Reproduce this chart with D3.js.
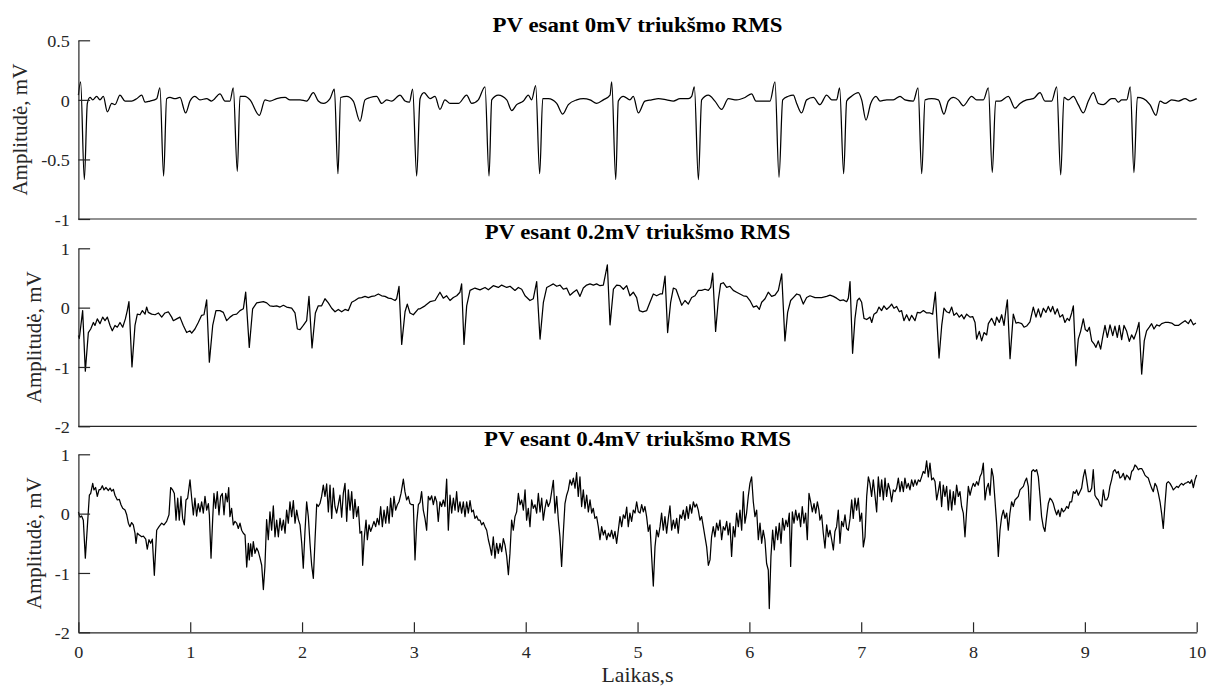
<!DOCTYPE html>
<html><head><meta charset="utf-8">
<script src="https://cdn.jsdelivr.net/npm/d3@7"></script>
<style>html,body{margin:0;padding:0;background:#fff;}svg{display:block;font-family:"Liberation Serif","Tinos","Times New Roman","Nimbus Roman","Nimbus Roman No9 L","DejaVu Serif","Noto Serif",serif;}</style>
</head><body><svg id="chart" width="1209" height="686"></svg>
<script>
// ---------------- data ----------------
const titles = ["PV esant 0mV triukšmo RMS", "PV esant 0.2mV triukšmo RMS", "PV esant 0.4mV triukšmo RMS"];
const yLabel = "Amplitudė, mV";
const xLabel = "Laikas,s";
const xTicks = [0, 1, 2, 3, 4, 5, 6, 7, 8, 9, 10];
const yTicksClean = [-1, -0.5, 0, 0.5];
const yTicksNoisy = [-2, -1, 0, 1];

// [time s, amplitude mV] — clean signal
const ecg0 = [
[0.000,0.04],[0.020,0.15],[0.053,-0.67],[0.080,-0.03],[0.104,0.02],[0.128,0.00],[0.163,0.03],[0.193,0.00],[0.223,0.03],[0.259,-0.10],[0.298,-0.03],[0.327,-0.04],[0.372,0.04],[0.417,-0.01],[0.476,-0.01],[0.521,0.01],[0.566,0.04],[0.596,-0.02],[0.640,-0.01],[0.700,0.01],[0.729,0.10],[0.762,-0.64],[0.789,0.01],[0.819,0.02],[0.864,0.01],[0.908,0.02],[0.959,-0.11],[0.998,-0.01],[1.042,0.03],[1.087,0.00],[1.146,0.01],[1.191,-0.01],[1.266,0.05],[1.311,-0.01],[1.355,-0.01],[1.385,0.10],[1.421,-0.60],[1.445,0.03],[1.490,0.03],[1.535,0.00],[1.618,-0.13],[1.669,0.00],[1.713,-0.01],[1.773,0.01],[1.848,0.02],[1.892,0.00],[1.982,0.00],[2.041,-0.01],[2.101,0.06],[2.145,-0.01],[2.190,-0.03],[2.250,0.01],[2.289,0.09],[2.321,-0.62],[2.345,0.02],[2.399,0.03],[2.458,-0.01],[2.518,-0.18],[2.563,0.00],[2.608,0.02],[2.667,0.03],[2.712,-0.03],[2.757,0.00],[2.801,-0.01],[2.876,0.04],[2.921,-0.01],[2.960,-0.02],[2.989,0.09],[3.025,-0.64],
[3.055,0.01],[3.091,0.06],[3.144,0.01],[3.189,0.03],[3.233,-0.08],[3.278,0.00],[3.323,-0.03],[3.398,-0.03],[3.472,0.04],[3.517,-0.03],[3.576,0.00],[3.636,0.11],[3.672,-0.64],[3.696,0.00],[3.755,0.04],[3.830,0.00],[3.875,-0.09],[3.919,-0.04],[3.979,-0.01],[4.023,0.04],[4.053,0.00],[4.089,0.12],[4.125,-0.62],[4.152,0.01],[4.202,0.01],[4.277,-0.03],[4.331,-0.12],[4.381,-0.04],[4.456,0.00],[4.515,0.01],[4.575,0.00],[4.634,-0.03],[4.694,0.00],[4.754,0.04],[4.769,0.15],[4.805,-0.67],[4.828,-0.01],[4.873,0.03],[4.932,0.00],[4.962,0.03],[5.007,-0.11],[5.066,-0.01],[5.126,0.00],[5.186,0.01],[5.260,0.00],[5.320,-0.01],[5.380,0.01],[5.454,0.01],[5.484,0.03],[5.508,0.11],[5.544,-0.67],[5.573,0.00],[5.633,0.04],[5.692,-0.01],[5.752,-0.08],[5.812,0.01],[5.886,0.00],[5.961,0.02],[6.020,0.05],[6.059,-0.01],[6.125,-0.01],[6.184,-0.01],[6.229,0.15],[6.265,-0.65],[6.298,0.00],[6.348,0.03],[6.393,0.04],[6.423,-0.03],[6.467,-0.11],[6.512,0.00],[6.572,0.02],
[6.631,-0.04],[6.691,0.04],[6.736,0.00],[6.780,0.00],[6.807,0.10],[6.843,-0.62],[6.870,-0.01],[6.914,0.03],[6.974,0.06],[7.004,0.00],[7.043,-0.17],[7.085,-0.03],[7.132,0.03],[7.168,-0.01],[7.228,0.00],[7.287,0.00],[7.347,0.03],[7.391,0.00],[7.466,-0.01],[7.508,0.10],[7.541,-0.62],[7.571,0.00],[7.630,0.01],[7.690,0.00],[7.740,-0.12],[7.779,-0.01],[7.824,0.02],[7.868,0.00],[7.913,-0.05],[7.988,0.03],[8.032,0.00],[8.092,0.00],[8.137,0.10],[8.172,-0.61],[8.202,-0.01],[8.241,-0.01],[8.315,0.03],[8.375,-0.07],[8.420,-0.03],[8.479,0.00],[8.539,0.01],[8.599,0.06],[8.643,-0.01],[8.703,-0.01],[8.748,0.11],[8.784,-0.63],[8.813,0.02],[8.852,0.00],[8.897,0.03],[8.941,-0.04],[8.986,-0.11],[9.031,-0.01],[9.076,0.06],[9.120,-0.03],[9.165,-0.04],[9.239,0.01],[9.269,0.01],[9.299,-0.02],[9.329,0.00],[9.374,0.00],[9.406,0.11],[9.439,-0.61],[9.469,0.02],[9.523,0.01],[9.582,-0.04],[9.636,-0.13],[9.672,-0.01],[9.717,-0.03],[9.776,0.00],[9.836,-0.01],[9.896,0.01],[9.940,-0.01],[10.0,0.01]
];

// signal with 0.2 mV RMS noise
const ecg02 = [
[0.000,-0.47],[0.008,-0.52],[0.038,-0.05],[0.062,-1.07],[0.089,-0.42],[0.110,-0.36],[0.134,-0.25],[0.148,-0.30],[0.169,-0.19],[0.193,-0.27],[0.217,-0.16],[0.238,-0.22],[0.259,-0.16],[0.283,-0.30],[0.303,-0.39],[0.327,-0.30],[0.348,-0.33],[0.372,-0.25],[0.396,-0.33],[0.420,-0.19],[0.437,-0.05],[0.452,0.10],[0.479,-1.00],[0.506,-0.30],[0.527,-0.11],[0.551,-0.12],[0.572,-0.05],[0.596,-0.11],[0.610,0.01],[0.625,-0.08],[0.655,-0.11],[0.685,-0.12],[0.715,-0.09],[0.745,-0.16],[0.774,-0.09],[0.804,-0.07],[0.834,-0.16],[0.849,-0.22],[0.879,-0.19],[0.908,-0.16],[0.938,-0.30],[0.968,-0.42],[0.998,-0.39],[1.013,-0.43],[1.042,-0.36],[1.072,-0.25],[1.102,-0.13],[1.123,-0.12],[1.147,0.13],[1.171,-0.92],[1.201,-0.30],[1.230,-0.05],[1.266,-0.05],[1.296,-0.08],[1.326,-0.22],[1.356,-0.16],[1.385,-0.12],[1.415,-0.11],[1.445,-0.05],[1.475,-0.02],[1.496,0.26],[1.528,-0.67],[1.558,-0.02],[1.594,0.08],[1.654,0.10],[1.684,0.08],[1.713,0.03],[1.743,0.02],[1.773,0.03],[1.803,0.01],[1.833,0.04],[1.862,0.01],[1.907,-0.01],[1.937,-0.09],[1.958,-0.36],[1.982,-0.37],[2.011,-0.30],[2.041,-0.22],[2.062,0.19],[2.089,-0.68],[2.119,-0.09],[2.145,0.03],[2.175,0.03],[2.205,0.15],[2.235,0.08],[2.265,-0.01],[2.295,-0.07],[2.324,-0.03],[2.354,-0.07],[2.384,-0.03],[2.414,-0.05],[2.444,0.09],[2.473,0.12],[2.503,0.16],[2.533,0.17],[2.563,0.19],[2.593,0.17],[2.622,0.19],[2.652,0.20],[2.682,0.23],[2.712,0.20],[2.742,0.19],[2.772,0.16],[2.801,0.15],[2.831,0.12],[2.846,0.15],[2.867,0.36],[2.891,-0.62],[2.921,-0.07],[2.941,0.06],[2.965,-0.09],[2.995,-0.12],[3.040,-0.02],
[3.055,-0.02],[3.099,0.03],[3.144,0.10],[3.189,0.12],[3.233,0.26],[3.263,0.16],[3.293,0.20],[3.323,0.12],[3.353,0.17],[3.383,0.20],[3.412,0.26],[3.427,0.40],[3.448,-0.62],[3.472,0.03],[3.502,0.29],[3.546,0.33],[3.591,0.30],[3.636,0.34],[3.666,0.30],[3.710,0.37],[3.755,0.34],[3.785,0.38],[3.830,0.34],[3.860,0.36],[3.904,0.29],[3.934,0.34],[3.964,0.31],[3.994,0.20],[4.038,0.12],[4.068,0.15],[4.098,0.44],[4.128,-0.53],[4.158,0.09],[4.188,0.34],[4.217,0.37],[4.247,0.40],[4.277,0.36],[4.307,0.38],[4.336,0.31],[4.366,0.33],[4.396,0.21],[4.426,0.26],[4.456,0.30],[4.485,0.19],[4.515,0.33],[4.545,0.38],[4.575,0.40],[4.605,0.38],[4.634,0.40],[4.664,0.37],[4.694,0.38],[4.730,0.72],[4.754,-0.29],[4.784,0.31],[4.813,0.38],[4.843,0.37],[4.873,0.31],[4.903,0.37],[4.932,0.20],[4.962,0.26],[4.992,0.17],[5.016,-0.05],[5.046,-0.07],[5.082,-0.05],[5.111,0.09],[5.141,0.23],[5.171,0.20],[5.201,0.23],[5.222,0.23],[5.246,0.53],[5.269,-0.42],[5.296,0.09],[5.320,0.33],[5.344,0.31],[5.365,0.20],[5.395,0.04],[5.424,0.12],[5.454,0.06],[5.484,0.17],[5.514,0.20],[5.544,0.29],[5.573,0.29],[5.603,0.31],[5.633,0.29],[5.654,0.34],[5.672,0.58],[5.698,-0.40],[5.722,0.12],[5.743,0.40],[5.767,0.42],[5.797,0.34],[5.826,0.36],[5.856,0.29],[5.886,0.26],[5.916,0.23],[5.946,0.20],[5.976,0.19],[6.005,0.12],[6.035,0.01],[6.065,0.03],[6.089,-0.03],[6.110,0.09],[6.140,0.15],[6.169,0.26],[6.199,0.19],[6.229,0.21],[6.259,0.29],[6.289,0.57],[6.318,-0.56],[6.342,-0.08],[6.369,0.12],[6.393,0.17],[6.423,0.23],[6.452,0.21],[6.482,0.06],[6.512,0.17],[6.542,0.20],[6.587,0.17],
[6.646,0.17],[6.691,0.19],[6.721,0.21],[6.751,0.19],[6.780,0.16],[6.810,0.12],[6.840,0.13],[6.870,0.10],[6.885,0.16],[6.900,0.44],[6.923,-0.77],[6.944,-0.19],[6.965,0.12],[6.983,0.16],[7.004,0.09],[7.025,-0.18],[7.049,-0.20],[7.079,-0.16],[7.094,-0.25],[7.114,-0.11],[7.138,-0.08],[7.159,0.01],[7.182,-0.05],[7.203,0.03],[7.227,-0.03],[7.251,0.01],[7.272,0.06],[7.293,-0.01],[7.317,0.02],[7.341,-0.07],[7.361,-0.05],[7.382,-0.22],[7.406,-0.12],[7.430,-0.22],[7.451,-0.13],[7.481,-0.22],[7.502,-0.08],[7.526,-0.09],[7.556,-0.05],[7.585,-0.09],[7.615,-0.09],[7.639,-0.11],[7.663,0.26],[7.696,-0.85],[7.720,-0.30],[7.740,-0.01],[7.764,-0.07],[7.788,-0.09],[7.809,0.01],[7.829,-0.13],[7.853,-0.09],[7.877,-0.16],[7.898,-0.12],[7.919,-0.19],[7.943,-0.11],[7.973,-0.16],[7.997,-0.15],[8.018,-0.25],[8.032,-0.53],[8.056,-0.40],[8.077,-0.56],[8.098,-0.42],[8.122,-0.46],[8.137,-0.27],[8.166,-0.18],[8.196,-0.30],[8.211,-0.16],[8.235,-0.25],[8.256,-0.12],[8.277,-0.30],[8.295,-0.02],[8.307,0.13],[8.331,-0.86],[8.360,-0.11],[8.384,-0.26],[8.405,-0.25],[8.435,-0.27],[8.456,-0.33],[8.479,-0.31],[8.509,-0.24],[8.539,0.01],[8.563,-0.16],[8.584,-0.02],[8.605,-0.16],[8.629,-0.01],[8.652,-0.08],[8.673,0.02],[8.694,-0.07],[8.712,0.02],[8.733,-0.11],[8.754,-0.02],[8.777,-0.16],[8.801,-0.12],[8.822,-0.25],[8.843,-0.18],[8.861,-0.22],[8.882,-0.09],[8.897,0.03],[8.920,-0.98],[8.941,-0.53],[8.962,-0.40],[8.986,-0.19],[9.004,-0.37],[9.022,-0.40],[9.040,-0.33],[9.061,-0.56],[9.082,-0.61],[9.099,-0.67],[9.120,-0.56],[9.141,-0.70],[9.159,-0.50],[9.180,-0.30],[9.201,-0.50],[9.225,-0.29],[9.249,-0.47],[9.269,-0.31],[9.290,-0.50],[9.308,-0.30],[9.329,-0.54],[9.350,-0.30],[9.374,-0.40],[9.397,-0.57],[9.418,-0.46],[9.439,-0.53],[9.463,-0.40],[9.484,-0.25],[9.508,-1.12],[9.531,-0.56],[9.552,-0.39],[9.576,-0.33],[9.597,-0.27],[9.618,-0.36],[9.642,-0.29],[9.666,-0.31],[9.687,-0.27],[9.716,-0.25],[9.746,-0.25],[9.776,-0.26],[9.806,-0.30],[9.836,-0.30],[9.866,-0.26],[9.896,-0.22],[9.925,-0.27],[9.946,-0.20],[9.970,-0.29],[9.993,-0.26]
];

// signal with 0.4 mV RMS noise
const ecg04 = [
[0.000,0.03],[0.014,-0.06],[0.029,-0.04],[0.044,-0.11],[0.062,-0.75],[0.080,-0.22],[0.098,0.31],[0.110,0.34],[0.128,0.51],[0.139,0.40],[0.154,0.44],[0.169,0.29],[0.184,0.40],[0.199,0.41],[0.214,0.47],[0.229,0.40],[0.247,0.44],[0.268,0.39],[0.283,0.43],[0.298,0.38],[0.313,0.41],[0.327,0.31],[0.348,0.23],[0.366,0.24],[0.381,0.15],[0.396,0.09],[0.417,0.06],[0.432,-0.02],[0.447,-0.16],[0.461,-0.22],[0.476,-0.15],[0.491,-0.19],[0.506,-0.33],[0.515,-0.50],[0.527,-0.33],[0.545,-0.36],[0.566,-0.39],[0.581,-0.38],[0.602,-0.43],[0.616,-0.60],[0.631,-0.44],[0.646,-0.50],[0.661,-0.43],[0.679,-1.04],[0.700,-0.28],[0.721,-0.22],[0.745,-0.16],[0.765,-0.19],[0.789,-0.13],[0.810,-0.02],[0.825,0.44],[0.843,0.40],[0.858,0.34],[0.873,-0.11],[0.888,0.26],[0.902,-0.11],[0.917,0.29],[0.932,-0.08],[0.947,-0.19],[0.962,0.23],[0.977,0.26],[0.998,0.57],[1.013,0.26],[1.028,-0.02],[1.042,0.26],[1.057,-0.04],[1.072,0.17],[1.087,0.03],[1.102,0.20],[1.117,0.01],[1.132,0.29],[1.147,0.06],[1.162,0.17],[1.171,-0.02],[1.186,-0.75],[1.201,-0.08],[1.212,0.34],[1.227,0.09],[1.242,0.37],[1.257,-0.02],[1.272,0.29],[1.287,0.34],[1.302,-0.02],[1.317,0.34],[1.332,0.20],[1.344,0.44],[1.355,-0.05],[1.370,0.09],[1.385,-0.19],[1.400,-0.13],[1.415,-0.16],[1.430,-0.25],[1.445,-0.16],[1.460,-0.28],[1.475,-0.33],[1.490,-0.36],[1.505,-0.90],[1.520,-0.50],[1.528,-0.78],[1.540,-0.51],[1.552,-0.72],[1.564,-0.47],[1.579,-0.67],[1.594,-0.58],[1.609,-0.64],[1.624,-0.75],[1.639,-0.87],[1.654,-1.28],[1.668,-0.89],[1.683,-0.10],[1.698,-0.44],[1.713,0.03],[1.728,-0.28],[1.743,0.13],[1.758,-0.39],[1.773,-0.11],[1.788,-0.39],[1.803,-0.08],[1.818,-0.28],[1.833,-0.11],[1.848,-0.33],[1.862,0.06],[1.877,-0.16],[1.892,0.20],[1.907,-0.05],[1.922,0.22],[1.937,-0.16],[1.952,0.06],[1.967,-0.10],[1.982,-0.19],[1.997,-0.50],[2.011,-0.92],[2.026,-0.30],[2.041,0.20],[2.056,-0.05],[2.071,-0.50],[2.086,-0.87],[2.101,-1.09],[2.116,-0.44],[2.131,0.16],[2.145,0.12],[2.160,0.17],[2.175,0.29],[2.190,0.48],[2.205,0.29],[2.220,0.50],[2.235,0.03],[2.250,0.48],[2.265,-0.08],[2.280,0.43],[2.294,0.12],[2.309,0.01],[2.324,0.15],[2.339,0.31],[2.354,-0.06],[2.369,0.34],[2.384,0.51],[2.399,-0.13],[2.414,0.40],[2.429,0.06],[2.444,0.37],[2.459,-0.08],[2.473,0.24],[2.488,-0.05],[2.503,0.12],[2.518,-0.33],[2.533,-0.30],[2.542,-0.87],[2.557,-0.39],[2.572,-0.11],[2.584,-0.44],[2.599,-0.19],[2.613,-0.30],[2.628,-0.22],[2.643,-0.13],[2.658,-0.22],[2.673,-0.08],[2.688,-0.19],[2.703,0.12],[2.718,-0.22],[2.733,0.06],[2.748,-0.16],[2.763,0.12],[2.778,-0.16],[2.792,0.26],[2.807,-0.05],[2.822,0.29],[2.837,0.06],[2.852,0.15],[2.867,0.20],[2.885,0.34],[2.906,0.58],[2.920,0.37],[2.935,0.23],[2.950,0.29],[2.965,0.17],[2.980,0.15],[2.995,0.15],[3.010,-0.78],[3.025,-0.16],[3.040,0.15],
[3.055,0.19],[3.069,0.37],[3.084,0.06],[3.099,-0.08],[3.114,-0.28],[3.129,0.29],[3.144,0.23],[3.159,0.30],[3.174,0.15],[3.189,0.29],[3.204,0.20],[3.218,-0.13],[3.233,0.20],[3.248,0.12],[3.263,0.23],[3.278,0.12],[3.293,0.58],[3.308,-0.28],[3.323,0.31],[3.338,0.01],[3.353,0.26],[3.368,0.06],[3.382,0.37],[3.397,0.03],[3.412,0.20],[3.427,0.01],[3.442,0.20],[3.457,-0.05],[3.472,0.20],[3.487,0.01],[3.502,0.22],[3.517,0.03],[3.531,0.06],[3.546,-0.08],[3.561,-0.04],[3.576,-0.11],[3.591,-0.11],[3.606,-0.19],[3.621,-0.15],[3.636,-0.22],[3.651,-0.28],[3.666,-0.44],[3.681,-0.56],[3.695,-0.70],[3.710,-0.39],[3.725,-0.75],[3.740,-0.50],[3.755,-0.67],[3.770,-0.50],[3.785,-0.64],[3.800,-0.42],[3.815,-0.53],[3.830,-0.72],[3.845,-1.03],[3.859,-0.67],[3.874,-0.11],[3.889,-0.28],[3.904,-0.05],[3.919,0.03],[3.934,0.34],[3.949,0.15],[3.964,0.23],[3.979,0.06],[3.994,0.40],[4.008,-0.11],[4.023,0.09],[4.038,-0.22],[4.053,0.23],[4.068,0.09],[4.083,0.15],[4.098,0.01],[4.113,0.34],[4.128,0.03],[4.143,0.26],[4.157,-0.11],[4.172,0.09],[4.187,0.23],[4.202,0.12],[4.217,0.19],[4.232,0.37],[4.247,0.56],[4.262,0.01],[4.277,0.29],[4.292,-0.11],[4.306,-0.39],[4.321,-0.89],[4.336,-0.33],[4.351,0.17],[4.366,0.31],[4.381,0.40],[4.396,0.57],[4.411,0.48],[4.426,0.60],[4.441,0.43],[4.455,0.69],[4.470,0.29],[4.485,0.62],[4.500,0.12],[4.515,0.40],[4.530,0.09],[4.545,0.31],[4.560,0.03],[4.575,0.23],[4.590,0.01],[4.604,0.09],[4.619,-0.08],[4.634,-0.05],[4.649,-0.22],[4.664,-0.44],[4.679,-0.22],[4.694,-0.36],[4.709,-0.28],[4.724,-0.44],[4.739,-0.33],[4.754,-0.39],[4.768,-0.28],[4.783,-0.42],[4.798,-0.30],[4.813,-0.50],[4.828,-0.28],[4.843,-0.05],[4.858,-0.22],[4.873,-0.02],[4.888,-0.08],[4.903,0.11],[4.917,-0.22],[4.932,0.01],[4.947,-0.13],[4.962,0.06],[4.977,0.01],[4.992,0.20],[5.007,0.03],[5.022,0.01],[5.037,0.15],[5.052,0.03],[5.066,0.12],[5.081,-0.05],[5.096,-0.30],[5.111,-0.19],[5.126,-0.72],[5.141,-1.22],[5.156,-0.56],[5.171,-0.28],[5.186,-0.39],[5.201,-0.22],[5.215,0.01],[5.230,-0.28],[5.245,-0.05],[5.260,-0.33],[5.275,-0.08],[5.290,0.13],[5.305,-0.28],[5.320,-0.11],[5.335,-0.25],[5.350,-0.08],[5.364,-0.33],[5.379,-0.02],[5.394,-0.08],[5.409,0.06],[5.424,-0.11],[5.439,0.12],[5.454,-0.08],[5.469,0.15],[5.484,0.01],[5.499,0.20],[5.513,0.11],[5.528,0.16],[5.543,0.06],[5.558,-0.11],[5.573,-0.05],[5.588,-0.22],[5.603,-0.39],[5.618,-0.56],[5.633,-0.87],[5.648,-0.78],[5.662,-0.39],[5.677,-0.22],[5.692,-0.39],[5.707,-0.16],[5.722,-0.28],[5.737,-0.11],[5.752,-0.44],[5.767,-0.22],[5.782,-0.28],[5.797,-0.13],[5.811,-0.36],[5.826,-0.16],[5.841,-0.72],[5.856,-0.22],[5.871,-0.39],[5.886,0.01],[5.901,-0.22],[5.916,0.06],[5.931,-0.28],[5.946,0.37],[5.960,-0.16],[5.975,0.01],[5.990,0.29],[6.005,0.51],[6.020,0.62],[6.035,0.20],[6.050,-0.05],[6.065,0.06],[6.080,-0.44],[6.095,-0.16],[6.110,-0.50],[6.124,-0.28],[6.139,-0.44],[6.154,-0.84],[6.169,-0.95],[6.178,-1.60],[6.193,-0.72],[6.208,-0.28],[6.223,-0.61],[6.238,-0.22],[6.253,-0.44],[6.268,-0.16],[6.283,-0.50],[6.297,-0.08],[6.312,-0.28],[6.327,-0.11],[6.342,-0.22],[6.357,0.01],[6.369,-0.89],[6.384,0.03],[6.399,-0.16],[6.414,0.06],[6.429,-0.11],[6.444,0.01],[6.458,-0.22],[6.473,0.12],[6.488,-0.16],[6.503,0.01],[6.518,-0.44],[6.533,0.34],[6.548,0.20],[6.563,0.03],[6.578,0.17],[6.593,0.01],[6.608,0.20],[6.622,0.06],
[6.631,-0.11],[6.646,-0.02],[6.661,-0.33],[6.676,-0.58],[6.691,-0.19],[6.706,-0.39],[6.721,-0.28],[6.736,-0.44],[6.751,-0.61],[6.765,-0.30],[6.780,-0.22],[6.795,0.06],[6.810,-0.50],[6.825,-0.13],[6.840,-0.22],[6.855,-0.02],[6.870,-0.25],[6.885,-0.28],[6.900,-0.08],[6.915,0.23],[6.929,-0.08],[6.944,0.26],[6.959,0.06],[6.974,0.26],[6.989,-0.13],[7.004,0.01],[7.019,-0.56],[7.034,-0.39],[7.049,0.29],[7.064,0.62],[7.078,0.51],[7.093,0.29],[7.108,0.57],[7.123,0.31],[7.138,0.03],[7.153,0.62],[7.168,0.29],[7.183,0.57],[7.198,0.23],[7.213,0.60],[7.227,0.29],[7.242,0.51],[7.257,0.40],[7.272,0.20],[7.287,0.40],[7.302,0.37],[7.317,0.43],[7.332,0.60],[7.347,0.37],[7.362,0.54],[7.377,0.37],[7.391,0.60],[7.406,0.43],[7.421,0.51],[7.436,0.40],[7.451,0.57],[7.466,0.46],[7.481,0.57],[7.496,0.48],[7.511,0.57],[7.526,0.54],[7.540,0.62],[7.555,0.71],[7.570,0.68],[7.585,0.89],[7.600,0.62],[7.615,0.85],[7.630,0.57],[7.645,0.60],[7.660,0.54],[7.675,0.23],[7.689,0.37],[7.704,0.54],[7.719,0.12],[7.734,0.48],[7.749,0.29],[7.764,0.46],[7.779,0.06],[7.794,0.40],[7.809,0.06],[7.824,0.37],[7.838,0.15],[7.853,0.48],[7.868,0.29],[7.883,0.37],[7.898,0.12],[7.913,0.01],[7.928,-0.39],[7.943,0.06],[7.958,0.46],[7.973,0.31],[7.988,0.43],[8.002,0.51],[8.017,0.46],[8.032,0.54],[8.047,0.48],[8.062,0.62],[8.077,0.68],[8.092,0.85],[8.107,0.23],[8.122,0.43],[8.137,0.51],[8.152,0.31],[8.166,0.76],[8.181,0.62],[8.196,0.23],[8.211,-0.16],[8.226,-0.72],[8.241,-0.28],[8.256,-0.05],[8.271,0.06],[8.286,-0.08],[8.301,0.01],[8.315,-0.28],[8.330,0.01],[8.345,0.20],[8.360,0.12],[8.375,0.23],[8.390,0.26],[8.405,0.29],[8.420,0.40],[8.435,0.43],[8.450,0.46],[8.464,0.54],[8.479,0.60],[8.494,0.46],[8.509,-0.11],[8.524,0.71],[8.539,0.74],[8.554,0.71],[8.569,0.74],[8.584,0.62],[8.599,0.29],[8.613,-0.05],[8.628,-0.22],[8.643,-0.30],[8.658,-0.05],[8.673,0.17],[8.688,0.26],[8.703,0.23],[8.718,0.17],[8.733,0.06],[8.748,-0.02],[8.763,0.06],[8.777,-0.05],[8.792,0.09],[8.807,0.03],[8.822,0.06],[8.837,0.12],[8.852,0.09],[8.867,0.20],[8.882,0.20],[8.897,0.37],[8.912,0.34],[8.926,0.40],[8.941,0.31],[8.956,0.37],[8.971,0.43],[8.986,0.62],[9.001,0.74],[9.016,0.57],[9.031,0.37],[9.046,0.37],[9.061,0.43],[9.075,0.74],[9.090,0.31],[9.105,0.26],[9.120,0.23],[9.135,0.15],[9.150,0.12],[9.165,0.40],[9.180,0.23],[9.195,0.23],[9.210,0.29],[9.224,0.46],[9.239,0.57],[9.254,0.71],[9.269,0.74],[9.284,0.68],[9.299,0.71],[9.314,0.60],[9.329,0.62],[9.344,0.68],[9.359,0.57],[9.374,0.65],[9.388,0.62],[9.403,0.57],[9.418,0.71],[9.433,0.74],[9.448,0.82],[9.463,0.79],[9.478,0.74],[9.493,0.76],[9.508,0.76],[9.523,0.71],[9.537,0.65],[9.552,0.62],[9.567,0.60],[9.582,0.51],[9.597,0.43],[9.612,0.37],[9.627,0.51],[9.642,0.46],[9.657,0.34],[9.672,0.20],[9.686,0.01],[9.701,-0.25],[9.716,0.15],[9.731,0.51],[9.746,0.54],[9.761,0.51],[9.776,0.46],[9.791,0.40],[9.806,0.43],[9.821,0.46],[9.835,0.44],[9.850,0.48],[9.865,0.51],[9.880,0.48],[9.895,0.51],[9.910,0.52],[9.925,0.54],[9.940,0.51],[9.955,0.57],[9.970,0.44],[9.985,0.57],[10.0,0.65]
];

// ---------------- layout ----------------
const W = 1209, H = 686;
const X0 = 78.4, X1 = 1196.7;
const STRETCH = 1.1; // horizontal glyph stretch seen in the reference
const AX = "#262626";
const FONT = '"Liberation Serif","Tinos","Times New Roman","Nimbus Roman","Nimbus Roman No9 L","DejaVu Serif","Noto Serif",serif';
const panels = [
  {data: ecg0,  domain: [-1, 0.5], ticks: yTicksClean, top: 40.3,  bottom: 219.0, labelX: 27, curve: d3.curveMonotoneX, title: titles[0], titleY: 32.3,  titleW: 290},
  {data: ecg02, domain: [-2, 1],   ticks: yTicksNoisy, top: 248.3, bottom: 426.3, labelX: 41, curve: d3.curveLinear,    title: titles[1], titleY: 239.2, titleW: 306},
  {data: ecg04, domain: [-2, 1],   ticks: yTicksNoisy, top: 454.3, bottom: 632.3, labelX: 41, curve: d3.curveLinear,    title: titles[2], titleY: 445.6, titleW: 307}
];

const svg = d3.select("#chart");
svg.append("rect").attr("width", W).attr("height", H).attr("fill", "#fff");

const x = d3.scaleLinear().domain([0, 10]).range([X0, X1]);

// horizontally fit a text to a measured reference width (keeps real text)
function fitText(sel, tx, ty, target, rot) {
  const node = sel.node();
  const len = node.getComputedTextLength();
  const s = len > 0 ? target / len : 1;
  sel.attr("transform", `translate(${tx},${ty})${rot ? " rotate(-90)" : ""} scale(${s},1)`);
}

panels.forEach((p, i) => {
  const y = d3.scaleLinear().domain(p.domain).range([p.bottom, p.top]);
  const g = svg.append("g");

  // signal
  g.append("path")
    .datum(p.data)
    .attr("fill", "none")
    .attr("stroke", "#000")
    .attr("stroke-width", 1.25)
    .attr("stroke-linejoin", "round")
    .attr("d", d3.line().x(d => x(d[0])).y(d => y(d[1])).curve(p.curve));

  // y axis (ticks point inward)
  const ya = g.append("g").attr("transform", `translate(${X0},0)`)
    .call(d3.axisLeft(y).tickValues(p.ticks).tickSizeInner(-11.7).tickSizeOuter(0).tickPadding(8.5)
      .tickFormat(d => String(d)));
  ya.attr("font-family", FONT);
  ya.select(".domain").attr("stroke", AX).attr("stroke-width", 1.2);
  ya.selectAll(".tick line").attr("stroke", AX).attr("stroke-width", 1.2);
  ya.selectAll(".tick text")
    .attr("fill", AX).attr("font-size", 16.5)
    .attr("font-family", FONT)
    .attr("transform", function () { const xx = +d3.select(this).attr("x"); return `translate(${xx},0) scale(${STRETCH},1) translate(${-xx},0)`; })
    .attr("dy", "0.38em");

  // x axis
  if (i < 2) {
    g.append("line").attr("x1", X0).attr("x2", X1).attr("y1", p.bottom).attr("y2", p.bottom)
      .attr("stroke", AX).attr("stroke-width", 1.2);
  } else {
    const xa = g.append("g").attr("transform", `translate(0,${p.bottom})`)
      .call(d3.axisBottom(x).tickValues(xTicks).tickSizeInner(-10).tickSizeOuter(0).tickFormat(d => String(d)));
    xa.attr("font-family", FONT);
    xa.select(".domain").attr("stroke", AX).attr("stroke-width", 1.2);
    xa.selectAll(".tick line").attr("stroke", AX).attr("stroke-width", 1.2);
    xa.selectAll(".tick text")
      .attr("fill", AX).attr("font-size", 16.5)
      .attr("font-family", FONT)
      .attr("y", 25.8).attr("dy", 0)
      .attr("transform", `scale(${STRETCH},1)`);
    const xl = g.append("text")
      .attr("text-anchor", "middle").attr("font-size", 20).attr("fill", AX)
      .attr("font-family", FONT)
      .text(xLabel);
    fitText(xl, (X0 + X1) / 2, 681.5, 72, false);
  }

  // y label
  const yl = g.append("text")
    .attr("text-anchor", "middle").attr("font-size", 21).attr("fill", AX)
    .attr("font-family", FONT)
    .text(yLabel);
  fitText(yl, p.labelX, (p.top + p.bottom) / 2, 132, true);

  // title
  const tt = g.append("text")
    .attr("text-anchor", "middle").attr("font-size", 20.8).attr("font-weight", "bold").attr("fill", "#000")
    .attr("font-family", FONT)
    .text(p.title);
  fitText(tt, (X0 + X1) / 2, p.titleY, p.titleW, false);
});
</script></body></html>
